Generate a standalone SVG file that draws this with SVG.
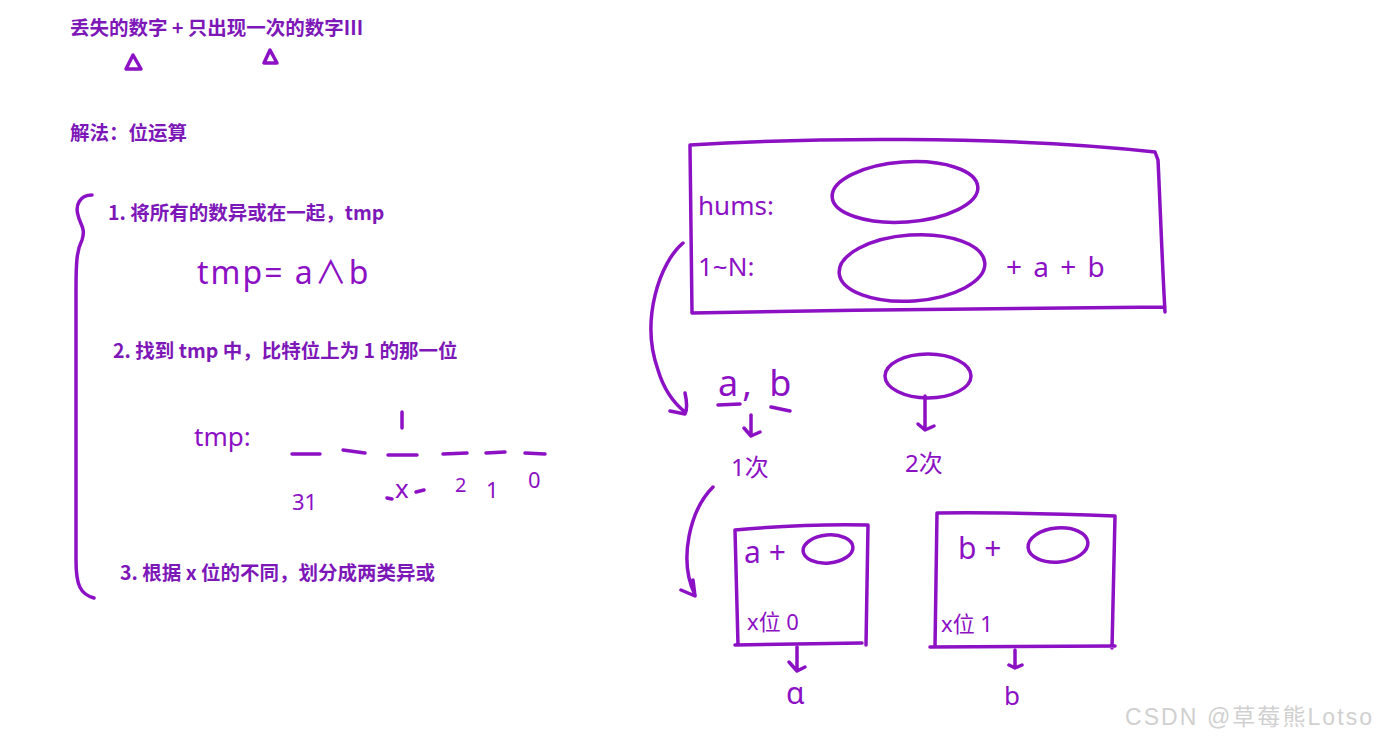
<svg xmlns="http://www.w3.org/2000/svg" width="1376" height="740" viewBox="0 0 1376 740">
<style>
.t{font-family:"Noto Sans CJK SC","Noto Sans",sans-serif;font-weight:bold;font-size:19.5px;fill:#7d17b8}
.h{font-family:"Noto Sans","Noto Sans CJK SC",sans-serif;fill:#8c10c4}
.s{fill:none;stroke:#8c10c4;stroke-width:3.5;stroke-linecap:round;stroke-linejoin:round}
.w{font-family:"Liberation Sans","Noto Sans CJK SC",sans-serif;font-size:23px;fill:#d0d0d0}
</style>
<rect width="1376" height="740" fill="#ffffff"/>
<g id="left">
<text class="t" x="70" y="35">丢失的数字 + 只出现一次的数字III</text>
<path class="s" d="M133 55 L126 69 L141 69 Z"/>
<path class="s" d="M270 50 L264 63 L277 63 Z"/>
<text class="t" x="70" y="140">解法：位运算</text>
<path class="s" d="M92 195 C80 195 75 205 78 215 C80 225 86 228 82 240 C77 250 76 260 76 290 L76 560 C76 585 80 594 94 598"/>
<text class="t" x="108" y="220">1. 将所有的数异或在一起，tmp</text>
<text class="h" x="197" y="284" font-size="32" letter-spacing="2">tmp=  a∧b</text>
<text class="t" x="113" y="358">2. 找到 tmp 中，比特位上为 1 的那一位</text>
<text class="h" x="194" y="446" font-size="26">tmp:</text>
<g class="s" stroke-width="3">
<path d="M292 454 L320 454"/>
<path d="M343 450 L365 453"/>
<path d="M388 455 L417 455"/>
<path d="M443 454 L467 453"/>
<path d="M486 453 L505 452"/>
<path d="M525 453 L545 454"/>
<path d="M402 412 L402 428"/>
</g>
<text class="h" x="292" y="510" font-size="22">31</text>
<text class="h" x="395" y="498" font-size="26">x</text>
<path class="s" stroke-width="2" d="M387 498 L392 499 M416 492 L424 490"/>
<text class="h" x="455" y="492" font-size="20">2</text>
<text class="h" x="486" y="498" font-size="22">1</text>
<text class="h" x="528" y="488" font-size="22">0</text>
<text class="t" x="120" y="580">3. 根据 x 位的不同，划分成两类异或</text>
</g>
<g id="mainbox">
<path class="s" d="M690 145 C800 138 1000 135 1155 152 L1158 160 C1160 200 1162 260 1165 312 M1165 307 C1000 308 850 310 692 313 L690 145"/>
<text class="h" x="698" y="215" font-size="26">hums:</text>
<ellipse class="s" cx="905" cy="192" rx="73" ry="30" transform="rotate(-4 905 192)"/>
<text class="h" x="698" y="276" font-size="26">1~N:</text>
<ellipse class="s" cx="912" cy="268" rx="73" ry="33" transform="rotate(-4 912 268)"/>
<text class="h" x="1006" y="277" font-size="28" letter-spacing="2">+ a  + b</text>
</g>
<g id="connectors">
<path class="s" d="M683 243 C660 262 640 320 658 370 C664 390 675 404 685 412 M685 393 C687 402 687 410 685 414 L670 411"/>
<path class="s" d="M751 415 L751 436 M744 428 L751 436 L760 432"/>
<path class="s" d="M925 396 L925 428 M918 424 L925 430 L934 426"/>
<path class="s" d="M713 487 C690 510 678 560 695 595 M693 580 L695 596 L681 590"/>
<path class="s" d="M797 647 L797 670 M789 662 L797 671 L805 667"/>
<path class="s" d="M1015 650 L1015 667 M1009 665 L1015 668 L1022 665"/>
</g>
<g id="ab">
<text class="h" x="718" y="396" font-size="36" letter-spacing="4">a, b</text>
<path class="s" stroke-width="3" d="M718 405 L740 404 M771 407 L790 411"/>
<text class="h" x="731" y="476" font-size="24">1次</text>
</g>
<g id="twice">
<ellipse class="s" cx="928" cy="376" rx="43" ry="22"/>
<text class="h" x="905" y="472" font-size="24">2次</text>
</g>
<g id="boxa">
<path class="s" d="M735 530 C780 526 830 524 868 525 L866 645 M735 530 L738 645 M735 645 L862 643"/>
<text class="h" x="744" y="563" font-size="30">a +</text>
<ellipse class="s" cx="828" cy="549" rx="25" ry="14" transform="rotate(-5 828 549)"/>
<text class="h" x="747" y="630" font-size="22">x位 0</text>
<text class="h" x="786" y="704" font-size="30">α</text>
</g>
<g id="boxb">
<path class="s" d="M937 513 C1000 512 1060 514 1115 516 L1112 648 M937 513 L935 647 M930 647 L1115 646"/>
<text class="h" x="958" y="559" font-size="30">b +</text>
<ellipse class="s" cx="1058" cy="545" rx="30" ry="17" transform="rotate(-5 1058 545)"/>
<text class="h" x="941" y="632" font-size="22">x位 1</text>
<text class="h" x="1004" y="705" font-size="26">b</text>
</g>
<text class="w" x="1125" y="725" textLength="247">CSDN @草莓熊Lotso</text>
</svg>
